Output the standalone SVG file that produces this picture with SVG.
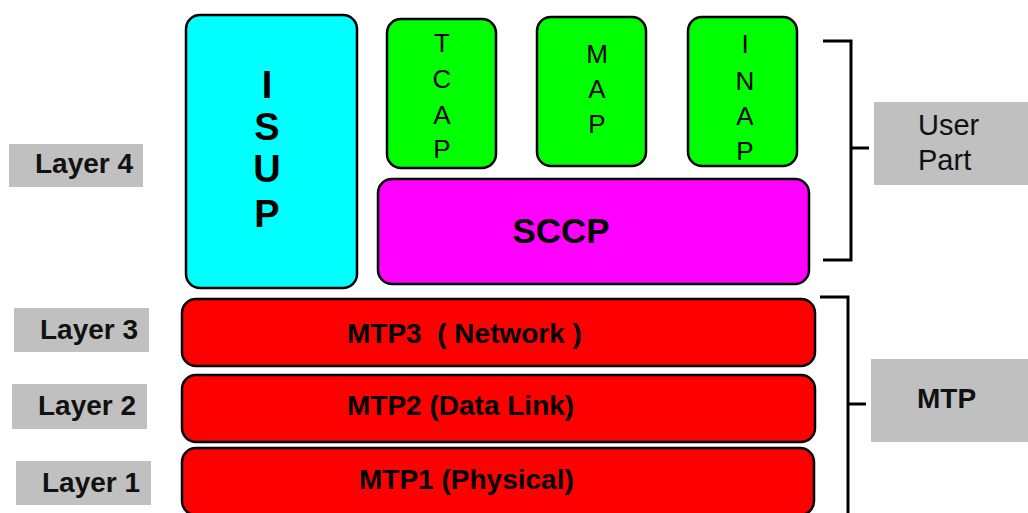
<svg xmlns="http://www.w3.org/2000/svg" width="1028" height="513" viewBox="0 0 1028 513">
<style>
.box{stroke:#000;stroke-width:2.5}
.gray{fill:#c0c0c0}
.lbl{font-family:"Liberation Sans",Arial,sans-serif;font-weight:bold;font-size:28px;fill:#111}
.reg{font-family:"Liberation Sans",Arial,sans-serif;font-size:29px;fill:#111}
.v{font-family:"Liberation Sans",Arial,sans-serif;font-size:26px;fill:#000;text-anchor:middle}
.vb{font-family:"Liberation Sans",Arial,sans-serif;font-size:38px;font-weight:bold;fill:#000;text-anchor:middle}
.br{fill:none;stroke:#000;stroke-width:3}
</style>
<rect width="1028" height="513" fill="#fff"/>
<g id="isup"><rect class="box" x="186" y="15" width="171" height="273" rx="14" fill="#00ffff"/>
<text class="vb" x="267" y="98">I</text><text class="vb" x="267" y="140">S</text><text class="vb" x="267" y="182">U</text><text class="vb" x="267" y="227">P</text></g>
<g id="tcap"><rect class="box" x="387" y="19" width="109" height="149" rx="14" fill="#00ff00"/>
<text class="v" x="442" y="52">T</text><text class="v" x="442" y="88">C</text><text class="v" x="442" y="124">A</text><text class="v" x="442" y="158">P</text></g>
<g id="map"><rect class="box" x="537" y="17" width="109" height="149" rx="14" fill="#00ff00"/>
<text class="v" x="597" y="63">M</text><text class="v" x="597" y="98">A</text><text class="v" x="597" y="133">P</text></g>
<g id="inap"><rect class="box" x="688" y="17" width="109" height="149" rx="14" fill="#00ff00"/>
<text class="v" x="745" y="53">I</text><text class="v" x="745" y="90">N</text><text class="v" x="745" y="125">A</text><text class="v" x="745" y="160">P</text></g>
<g id="sccp"><rect class="box" x="378" y="179" width="431" height="105" rx="14" fill="#ff00ff"/>
<text class="vb" x="561" y="243" style="font-size:35px">SCCP</text></g>
<g id="mtp3"><rect class="box" x="182" y="299" width="633" height="67" rx="14" fill="#ff0000"/>
<text class="lbl" x="347" y="343" style="fill:#000;white-space:pre" xml:space="preserve">MTP3  ( Network )</text></g>
<g id="mtp2"><rect class="box" x="182" y="375" width="633" height="67" rx="14" fill="#ff0000"/>
<text class="lbl" x="347" y="415" style="fill:#000">MTP2 (Data Link)</text></g>
<g id="mtp1"><rect class="box" x="182" y="448" width="632" height="67" rx="14" fill="#ff0000"/>
<text class="lbl" x="359" y="489" style="fill:#000">MTP1 (Physical)</text></g>
<g id="layer4"><rect class="gray" x="9" y="144" width="134" height="43"/><text class="lbl" x="35" y="173">Layer 4</text></g>
<g id="layer3"><rect class="gray" x="14" y="308" width="135" height="44"/><text class="lbl" x="40" y="339">Layer 3</text></g>
<g id="layer2"><rect class="gray" x="12" y="384" width="135" height="45"/><text class="lbl" x="38" y="415">Layer 2</text></g>
<g id="layer1"><rect class="gray" x="16" y="461" width="135" height="44"/><text class="lbl" x="42" y="492">Layer 1</text></g>
<g id="userpart"><rect class="gray" x="874" y="102" width="154" height="83"/><text class="reg" x="918" y="135">User</text><text class="reg" x="918" y="170">Part</text></g>
<g id="mtp"><rect class="gray" x="871" y="359" width="157" height="83"/><text class="lbl" x="917" y="408">MTP</text></g>
<g id="connectors">
<path class="br" d="M823 41H851V260H823M851 148H869"/>
<path class="br" d="M820 297H848V513M848 404H866"/>
</g>
</svg>
